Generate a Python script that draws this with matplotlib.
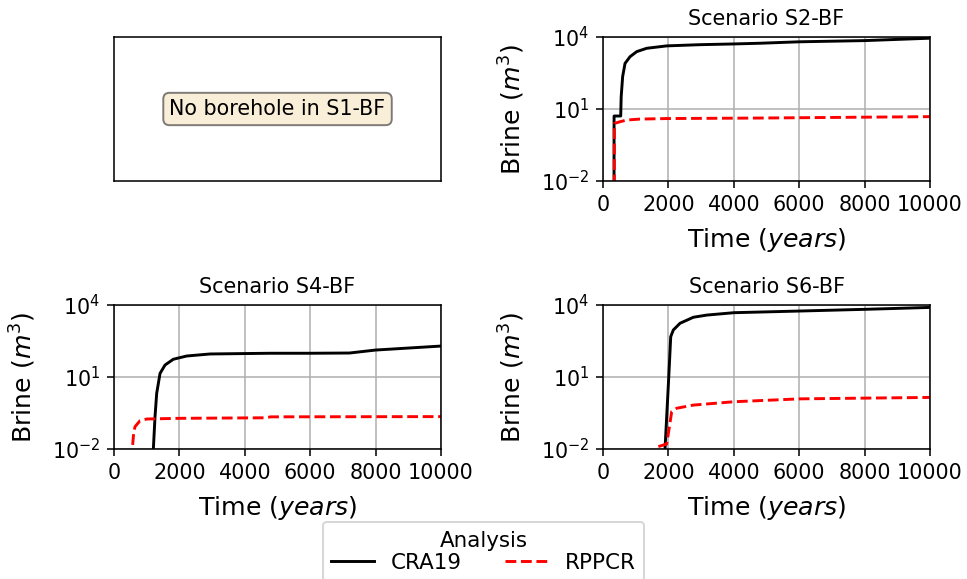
import numpy as np
import matplotlib
matplotlib.use("Agg")
import matplotlib.pyplot as plt
from matplotlib.ticker import NullLocator

# Brine volume curves (time in years, brine in m^3)
s2_cra_t = [0, 336, 338, 541, 555, 600, 673, 826, 1030, 1336, 1950, 2966, 3985, 4800, 6000, 8000, 10000]
s2_cra_v = [1e-3, 1e-3, 5.1, 5.1, 32, 224, 794, 1514, 2455, 3388, 4266, 4786, 5129, 5495, 6310, 7079, 8913]
s2_rpp_t = [0, 345, 347, 520, 724, 1130, 1950, 4800, 10000]
s2_rpp_v = [1e-3, 1e-3, 2.5, 2.95, 3.47, 3.8, 4.0, 4.2, 4.8]

s4_cra_t = [0, 1200, 1203, 1254, 1305, 1407, 1560, 1814, 2222, 2936, 4771, 6000, 7200, 8000, 10000]
s4_cra_v = [1e-3, 1e-3, 0.01, 0.224, 2.09, 14.1, 31.6, 55, 75, 91.2, 97.7, 97.7, 100, 133, 195]
s4_rpp_t = [0, 558, 560, 600, 642, 795, 999, 2000, 4600, 4800, 10000]
s4_rpp_v = [1e-3, 1e-3, 0.01, 0.045, 0.085, 0.151, 0.178, 0.19, 0.2, 0.219, 0.224]

s6_cra_t = [0, 1890, 1896, 1947, 2000, 2035, 2070, 2150, 2355, 2762, 3170, 4000, 6024, 8000, 10000]
s6_cra_v = [1e-3, 1e-3, 0.01, 0.224, 5.5, 50, 479, 912, 1738, 3090, 3802, 4786, 5623, 6607, 7943]
s6_rpp_t = [1692, 1947, 2030, 2100, 2253, 2762, 4000, 6024, 8000, 10000]
s6_rpp_v = [0.0126, 0.0162, 0.085, 0.363, 0.5, 0.676, 0.933, 1.23, 1.32, 1.41]

panels = [
    ("Scenario S2-BF", s2_cra_t, s2_cra_v, s2_rpp_t, s2_rpp_v),
    ("Scenario S4-BF", s4_cra_t, s4_cra_v, s4_rpp_t, s4_rpp_v),
    ("Scenario S6-BF", s6_cra_t, s6_cra_v, s6_rpp_t, s6_rpp_v),
]
x_ticks = [0, 2000, 4000, 6000, 8000, 10000]
y_ticks = [1e-2, 1e1, 1e4]

dpi = 140
fig = plt.figure(figsize=(967 / dpi, 579 / dpi), dpi=dpi)
w, h = 0.3382, 0.2487
pos = {
    "s1": [0.1179, 0.6874, w, h],
    "s2": [0.6236, 0.6874, w, h],
    "s4": [0.1179, 0.2245, w, h],
    "s6": [0.6236, 0.2245, w, h],
}

ax0 = fig.add_axes(pos["s1"])
ax0.set_xticks([])
ax0.set_yticks([])
ax0.text(0.5, 0.5, "No borehole in S1-BF", transform=ax0.transAxes,
         ha="center", va="center", fontsize=10.6,
         bbox=dict(boxstyle="round", facecolor="wheat", alpha=0.5))

handles = None
for key, (title, ct, cv, rt, rv) in zip(["s2", "s4", "s6"], panels):
    ax = fig.add_axes(pos[key])
    l1, = ax.plot(ct, cv, color="black", lw=1.5, label="CRA19")
    l2, = ax.plot(rt, rv, color="red", lw=1.5, ls="--", label="RPPCR")
    handles = [l1, l2]
    ax.set_yscale("log")
    ax.set_xlim(0, 10000)
    ax.set_ylim(1e-2, 1e4)
    ax.set_xticks(x_ticks)
    ax.set_yticks(y_ticks)
    ax.yaxis.set_minor_locator(NullLocator())
    ax.tick_params(labelsize=10.7)
    ax.grid(True)
    ax.set_title(title, fontsize=10.7)
    ax.set_xlabel("Time ($years$)", fontsize=13, labelpad=6)
    ax.set_ylabel("Brine ($m^3$)", fontsize=13, labelpad=7)

fig.legend(handles=handles, title="Analysis", ncol=2, loc="upper center",
           bbox_to_anchor=(0.5, 0.0984), borderaxespad=0, labelspacing=0.1,
           fontsize=11, title_fontsize=11)

fig.savefig("out.png", dpi=dpi)
